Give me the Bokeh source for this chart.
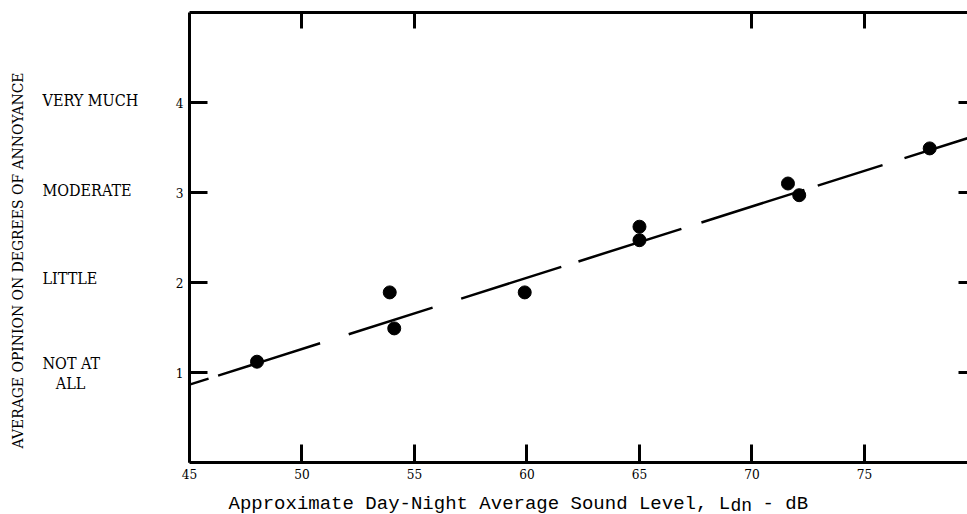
import math
from bokeh.plotting import figure
from bokeh.models import Range1d, LinearAxis, FixedTicker
from bokeh.layouts import column, row
from bokeh.core.properties import value
from bokeh.embed import file_html
from bokeh.resources import INLINE

# ---- data ----
sound_level = [48.0, 53.9, 54.1, 59.9, 65.0, 65.0, 71.6, 72.1, 77.9]
annoyance = [1.12, 1.89, 1.49, 1.89, 2.62, 2.47, 3.10, 2.97, 3.49]
fit_x = [45.0, 79.6]
fit_y = [0.865, 3.605]
x_ticks = [45, 50, 55, 60, 65, 70, 75]
top_ticks = [50, 55, 70, 75]
y_ticks = [1, 2, 3, 4]
category_labels = ["VERY MUCH", "MODERATE", "LITTLE", "NOT AT"]
category_y = [4.02, 3.02, 2.04, 1.10]
category_tail = "ALL"
category_tail_y = 0.88
y_title = "AVERAGE OPINION ON DEGREES OF ANNOYANCE"
x_title_main = "Approximate Day-Night Average Sound Level, L"
x_title_sub = "dn"
x_title_end = " - dB"

SERIF = "DejaVu Serif Condensed"
MONO = "Liberation Mono"

# ---------------- main plot ----------------
p = figure(width=798, height=484, output_backend="svg", toolbar_location=None,
           x_range=Range1d(45, 79.58), y_range=Range1d(0, 5),
           min_border_left=20, min_border_right=0, min_border_top=12,
           min_border_bottom=22)
p.outline_line_color = None
p.grid.visible = False

xa = p.xaxis[0]
xa.ticker = FixedTicker(ticks=x_ticks)
ya = p.yaxis[0]
ya.ticker = FixedTicker(ticks=y_ticks)
for ax in (xa, ya):
    ax.axis_line_width = 3
    ax.axis_line_color = "black"
    ax.major_tick_line_width = 3
    ax.major_tick_line_color = "black"
    ax.major_tick_in = 18
    ax.major_tick_out = 0
    ax.minor_tick_line_color = None
    ax.major_label_text_font = SERIF
    ax.major_label_text_font_size = "13.5px"
    ax.major_label_text_color = "black"
xa.major_label_standoff = 6
ya.major_label_standoff = 6

top = LinearAxis(ticker=FixedTicker(ticks=top_ticks),
                 major_label_overrides={t: "" for t in top_ticks},
                 major_label_text_font_size="1px", major_label_standoff=0,
                 major_tick_in=16, major_tick_out=0, major_tick_line_width=3,
                 axis_line_width=3, minor_tick_line_color=None)
p.add_layout(top, "above")

right = LinearAxis(ticker=FixedTicker(ticks=y_ticks),
                   major_label_overrides={t: "" for t in y_ticks},
                   major_label_text_font_size="1px", major_label_standoff=0,
                   major_tick_in=9, major_tick_out=0, major_tick_line_width=3,
                   axis_line_color=None, minor_tick_line_color=None)
p.add_layout(right, "right")

p.line(fit_x, fit_y, line_color="black", line_width=2.5,
       line_dash="20 10 107 30 88 30 105 18 108 21 108 14 68 23 200 20")
p.scatter(sound_level, annoyance, size=13, color="black")

# ---------------- left label strip (shares the y scale) ----------------
side = figure(width=169, height=484, output_backend="svg", toolbar_location=None,
              x_range=Range1d(0, 169), y_range=p.y_range,
              x_axis_location=None, y_axis_location=None,
              min_border_left=0, min_border_right=0, min_border_top=12,
              min_border_bottom=22)
side.outline_line_color = None
side.grid.visible = False
side.text(x=[42] * len(category_labels), y=category_y, text=category_labels,
          text_font=value(SERIF), text_font_size="16px", text_color="black",
          text_align="left", text_baseline="middle")
side.text(x=[70], y=[category_tail_y], text=[category_tail],
          text_font=value(SERIF), text_font_size="16px", text_color="black",
          text_align="center", text_baseline="middle")
side.text(x=[17.5], y=[2.245], text=[y_title], angle=math.pi / 2,
          text_font=value(SERIF), text_font_size="15.5px", text_color="black",
          text_align="center", text_baseline="middle")

# ---------------- bottom title strip ----------------
bottom = figure(width=967, height=30, output_backend="svg", toolbar_location=None,
                x_range=Range1d(0, 967), y_range=Range1d(0, 30),
                x_axis_location=None, y_axis_location=None,
                min_border_left=0, min_border_right=0, min_border_top=0,
                min_border_bottom=0)
bottom.outline_line_color = None
bottom.grid.visible = False
bottom.text(x=[228], y=[11], text=[x_title_main], text_font=value(MONO),
            text_font_size="19px", text_color="black",
            text_align="left", text_baseline="alphabetic")
bottom.text(x=[730], y=[9], text=[x_title_sub], text_font=value(MONO),
            text_font_size="18px", text_color="black",
            text_align="left", text_baseline="alphabetic")
bottom.text(x=[762], y=[11], text=[x_title_end], text_font=value(MONO),
            text_font_size="19px", text_color="black",
            text_align="left", text_baseline="alphabetic")

layout = column(row(side, p, spacing=0), bottom, spacing=0)
open("out.html", "w").write(file_html(layout, INLINE))
